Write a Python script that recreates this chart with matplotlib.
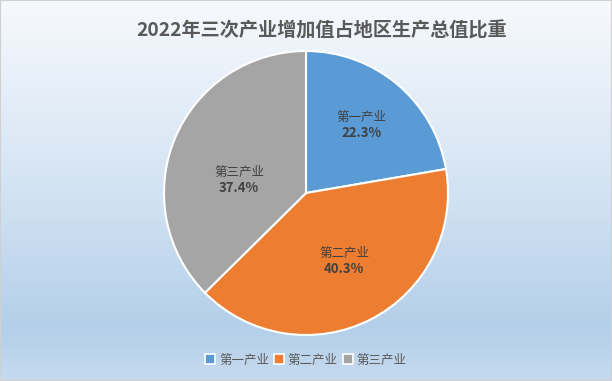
import numpy as np
import matplotlib
matplotlib.use("Agg")
from matplotlib import pyplot as plt
from matplotlib.colors import LinearSegmentedColormap
from matplotlib.patches import Patch, Rectangle

plt.rcParams['font.family'] = ['Noto Sans CJK SC', 'DejaVu Sans']

# data
title = "2022年三次产业增加值占地区生产总值比重"
categories = ["第一产业", "第二产业", "第三产业"]
shares = [22.3, 40.3, 37.4]
colors = ["#5b9bd5", "#ed7d31", "#a5a5a5"]
# label placement: distance from centre (fraction of radius) and angle shift (deg)
label_radius = [0.616, 0.549, 0.48]
label_shift = [1.1, 2.0, 11.7]

fig = plt.figure(figsize=(6.12, 3.81), dpi=100)

# gradient background
bg = fig.add_axes([0, 0, 1, 1], zorder=-10)
cmap = LinearSegmentedColormap.from_list(
    "bg", [(0.0, "#f7f9fd"), (0.5, "#d3e3f3"), (0.86, "#b4cfe9"), (1.0, "#c6dbef")])
grad = np.linspace(0, 1, 256).reshape(-1, 1)
bg.imshow(grad, aspect="auto", cmap=cmap, extent=[0, 1, 0, 1], origin="upper")
bg.add_patch(Rectangle((0, 0), 1, 1, transform=bg.transAxes, fill=False,
                       edgecolor="#d0d0d0", linewidth=1.5))
bg.set_axis_off()

# pie axes: centre (306,193) px, radius 142 px
W, H = 612, 381
cx, cy, r = 306, 193, 142
ax = fig.add_axes([(cx - r) / W, (H - cy - r) / H, 2 * r / W, 2 * r / H])
wedges, _ = ax.pie(shares, colors=colors, startangle=90, counterclock=False,
                   wedgeprops=dict(edgecolor="white", linewidth=1.5))
ax.set_xlim(-1, 1)
ax.set_ylim(-1, 1)
ax.set_aspect("equal")

for w, name, val, lr, sh in zip(wedges, categories, shares, label_radius, label_shift):
    ang = np.deg2rad((w.theta1 + w.theta2) / 2 + sh)
    x, y = lr * np.cos(ang), lr * np.sin(ang)
    ax.text(x, y + 0.01, name, ha="center", va="bottom", fontsize=9,
            color="#404040")
    ax.text(x, y - 0.01, f"{val}%", ha="center", va="top", fontsize=9.5,
            color="#404040", fontweight="bold")

fig.text(0.525, 0.918, title, ha="center", va="center", fontsize=13.8,
         fontweight="bold", color="#595959")

handles = [Patch(facecolor=c, edgecolor="white", linewidth=1.2) for c in colors]
fig.legend(handles, categories, loc="center", bbox_to_anchor=(0.5, 0.055),
           ncol=3, frameon=False, fontsize=9, handlelength=0.8,
           handleheight=0.8, handletextpad=0.3, columnspacing=0.4,
           labelcolor="#595959")

fig.savefig("out.png", dpi=100)
